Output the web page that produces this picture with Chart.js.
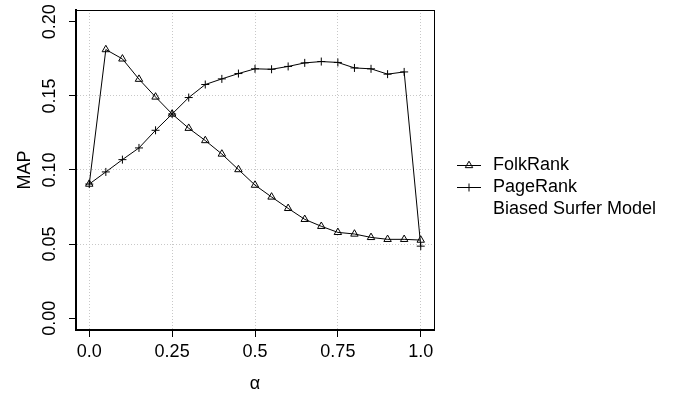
<!DOCTYPE html>
<html>
<head>
<meta charset="utf-8">
<script src="https://cdn.jsdelivr.net/npm/chart.js@4/dist/chart.umd.min.js"></script>
<style>
  html, body { margin: 0; padding: 0; background: #fff; }
  #wrap { width: 676px; height: 394px; }
</style>
</head>
<body>
<div id="wrap"><canvas id="grafico" width="676" height="394"></canvas></div>
<script>
// === Dados ===
const alphas = [0.0, 0.05, 0.10, 0.15, 0.20, 0.25, 0.30, 0.35, 0.40, 0.45, 0.50,
                0.55, 0.60, 0.65, 0.70, 0.75, 0.80, 0.85, 0.90, 0.95, 1.0];
const folkRank = [0.0905, 0.1813, 0.1750, 0.1613, 0.1493, 0.1378, 0.1282, 0.1199, 0.1108, 0.1003, 0.0898,
                  0.0818, 0.0741, 0.0667, 0.0620, 0.0579, 0.0568, 0.0545, 0.0532, 0.0532, 0.0527];
const pageRank = [0.0905, 0.0987, 0.1070, 0.1149, 0.1268, 0.1378, 0.1489, 0.1577, 0.1615, 0.1651, 0.1683,
                  0.1680, 0.1699, 0.1723, 0.1732, 0.1726, 0.1689, 0.1683, 0.1647, 0.1662, 0.0486];
const xTicks = [0, 0.25, 0.5, 0.75, 1.0];
const xTickLabels = ["0.0", "0.25", "0.5", "0.75", "1.0"];
const yTicks = [0, 0.05, 0.10, 0.15, 0.20];
const yGridLines = [0.05, 0.10, 0.15];
const legendLabels = ["FolkRank", "PageRank", "Biased Surfer Model"];

const FONT = "'Liberation Sans', Arial, Helvetica, sans-serif";
const GRID = "#c8c8c8";

// === Plugin: caixa do gráfico + legenda estilo R ===
const boxAndLegend = {
  id: "boxAndLegend",
  afterDraw(chart) {
    const { ctx, chartArea: a } = chart;
    ctx.save();
    ctx.strokeStyle = "#000";
    ctx.lineWidth = 1;
    ctx.strokeRect(Math.round(a.left) + 0.5, Math.round(a.top) + 0.5,
                   Math.round(a.right - a.left), Math.round(a.bottom - a.top));

    // legenda
    const lx = 457, rows = [165, 187, 209];
    ctx.font = "18px " + FONT;
    ctx.textBaseline = "middle";
    ctx.textAlign = "left";
    chart.data.datasets.forEach((ds, i) => {
      const y = rows[i] + 0.5;
      ctx.beginPath();
      ctx.moveTo(lx, y);
      ctx.lineTo(lx + 24, y);
      ctx.lineWidth = 1;
      ctx.strokeStyle = "#000";
      ctx.stroke();
      ctx.fillStyle = "rgba(0,0,0,0)";
      Chart.helpers.drawPoint(ctx, {
        pointStyle: ds.pointStyle,
        radius: ds.pointRadius,
        borderWidth: 1
      }, lx + 12, y);
      ctx.fillStyle = "#000";
      ctx.fillText(legendLabels[i], 493, rows[i]);
    });
    ctx.fillText(legendLabels[2], 493, rows[2]);
    ctx.restore();
  }
};

const ctx = document.getElementById("grafico").getContext("2d");
new Chart(ctx, {
  type: "line",
  data: {
    datasets: [
      {
        label: legendLabels[0],
        data: alphas.map((a, i) => ({ x: a, y: folkRank[i] })),
        borderColor: "#000",
        borderWidth: 1,
        backgroundColor: "rgba(0,0,0,0)",
        pointStyle: "triangle",
        pointRadius: 4.3,
        pointBorderWidth: 1,
        pointBorderColor: "#000",
        pointBackgroundColor: "rgba(0,0,0,0)",
        tension: 0
      },
      {
        label: legendLabels[1],
        data: alphas.map((a, i) => ({ x: a, y: pageRank[i] })),
        borderColor: "#000",
        borderWidth: 1,
        backgroundColor: "rgba(0,0,0,0)",
        pointStyle: "cross",
        pointRadius: 4,
        pointBorderWidth: 1,
        pointBorderColor: "#000",
        tension: 0
      }
    ]
  },
  options: {
    responsive: false,
    animation: false,
    devicePixelRatio: 1,
    layout: { padding: { left: 0, top: 10, right: 242, bottom: 0 } },
    plugins: {
      legend: { display: false },
      tooltip: { enabled: false }
    },
    scales: {
      x: {
        type: "linear",
        min: -0.04,
        max: 1.04,
        afterBuildTicks: (scale) => { scale.ticks = xTicks.map(v => ({ value: v })); },
        afterFit: (scale) => {
          scale.height = 64;
          scale.paddingLeft = 0; scale.paddingRight = 0;
        },
        ticks: {
          autoSkip: false,
          maxRotation: 0,
          minRotation: 0,
          padding: 4,
          color: "#000",
          font: { family: FONT, size: 18 },
          callback: (v) => { const i = xTicks.indexOf(v); return i >= 0 ? xTickLabels[i] : ""; }
        },
        grid: {
          color: GRID,
          lineWidth: 1,
          tickLength: 7,
          tickColor: "#000",
          tickWidth: 1,
          tickBorderDash: []
        },
        border: { display: true, color: "#000", width: 2, dash: [1, 2] },
        title: {
          display: true,
          text: "α",
          color: "#000",
          font: { family: FONT, size: 18 },
          padding: { top: 0, bottom: -1 }
        }
      },
      y: {
        type: "linear",
        min: -0.008,
        max: 0.208,
        afterBuildTicks: (scale) => { scale.ticks = yTicks.map(v => ({ value: v })); },
        afterFit: (scale) => {
          scale.width = 76;
          scale.paddingTop = 0; scale.paddingBottom = 0;
        },
        ticks: {
          autoSkip: false,
          minRotation: 90,
          maxRotation: 90,
          crossAlign: "center",
          padding: 1.5,
          color: "#000",
          font: { family: FONT, size: 18 },
          callback: (v) => v.toFixed(2)
        },
        grid: {
          color: (c) => (c.tick && yGridLines.includes(c.tick.value)) ? GRID : "rgba(0,0,0,0)",
          lineWidth: 1,
          tickLength: 7,
          tickColor: "#000",
          tickWidth: 1,
          tickBorderDash: []
        },
        border: { display: true, color: "#000", width: 2, dash: [1, 2] },
        title: {
          display: true,
          text: "MAP",
          color: "#000",
          font: { family: FONT, size: 18 },
          padding: { top: 14, bottom: 0 }
        }
      }
    }
  },
  plugins: [boxAndLegend]
});
</script>
</body>
</html>
